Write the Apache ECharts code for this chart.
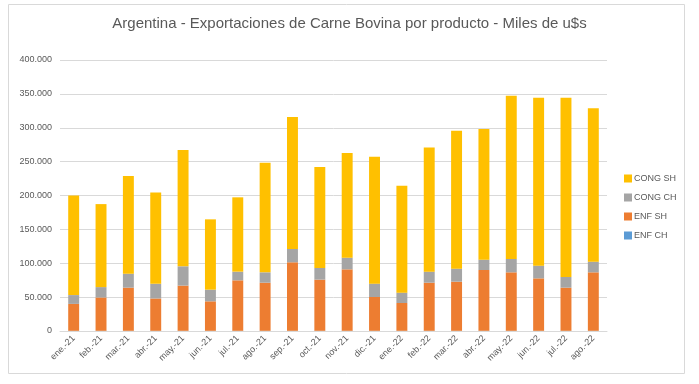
<!DOCTYPE html>
<html><head><meta charset="utf-8">
<script src="https://cdn.jsdelivr.net/npm/echarts@6/dist/echarts.min.js"></script>
<style>html,body{margin:0;padding:0;background:#fff}#c{width:699px;height:384px}</style>
</head><body><div id="c"></div>
<script>
const categories = ['ene.-21','feb.-21','mar.-21','abr.-21','may.-21','jun.-21','jul.-21','ago.-21','sep.-21','oct.-21','nov.-21','dic.-21','ene.-22','feb.-22','mar.-22','abr.-22','may.-22','jun.-22','jul.-22','ago.-22'];
const enfCH  = [300,300,300,300,300,300,300,300,300,300,300,300,300,300,300,300,300,300,300,300];
const enfSH  = [39700,49200,63700,47700,66700,43500,74500,71000,101100,75500,90700,49900,41000,71000,72500,89700,86300,77400,63700,86300];
const congCH = [13000,15300,20600,21700,28500,17200,12800,15300,19600,17200,17200,19700,15300,16300,19200,15300,19700,18700,15700,15700];
const congSH = [147000,122500,144200,134800,171600,103800,109700,161900,194900,149000,154500,187400,157900,183400,203700,192700,241100,248000,264700,226400];
const yTicks = [0,50000,100000,150000,200000,250000,300000,350000,400000];

const chart = echarts.init(document.getElementById('c'));
const fmt = v => v === 0 ? '0' : String(v).replace(/\B(?=(\d{3})+(?!\d))/g, '.');
const font = 'Liberation Sans';
function s(name, data, color){
  return {name, type:'bar', stack:'t', data, barWidth:'40%', itemStyle:{color}, emphasis:{disabled:true}};
}
chart.setOption({
  animation:false,
  title:{text:'Argentina - Exportaciones de Carne Bovina por producto - Miles de u$s', left:'center', top:11,
    textStyle:{fontFamily:font, fontSize:15, fontWeight:'normal', color:'#595959'}},
  graphic:[{type:'rect', shape:{x:8.5,y:4.5,width:676,height:369}, style:{fill:null, stroke:'#d9d9d9', lineWidth:1}, silent:true, z:-1}],
  legend:{orient:'vertical', left:619, top:169, itemWidth:8, itemHeight:8, itemGap:10, icon:'rect',
    data:['CONG SH','CONG CH','ENF SH','ENF CH'],
    textStyle:{fontFamily:font, fontSize:9, color:'#595959', padding:[0,0,0,-3]}},
  grid:{left:60, right:92, top:60, bottom:53, containLabel:false},
  xAxis:{type:'category', data:categories,
    axisLine:{lineStyle:{color:'#d9d9d9'}}, axisTick:{show:false},
    axisLabel:{rotate:45, interval:0, fontFamily:font, fontSize:9, color:'#595959', margin:6}},
  yAxis:{type:'value', min:0, max:400000, interval:50000,
    axisLine:{show:false}, axisTick:{show:false},
    splitLine:{lineStyle:{color:'#d9d9d9'}},
    axisLabel:{formatter:v=>yTicks.includes(v)?fmt(v):'', fontFamily:font, fontSize:9, color:'#595959', margin:8}},
  series:[
    s('ENF CH', enfCH, '#5B9BD5'),
    s('ENF SH', enfSH, '#ED7D31'),
    s('CONG CH', congCH, '#A5A5A5'),
    s('CONG SH', congSH, '#FFC000')
  ]
});
</script></body></html>
